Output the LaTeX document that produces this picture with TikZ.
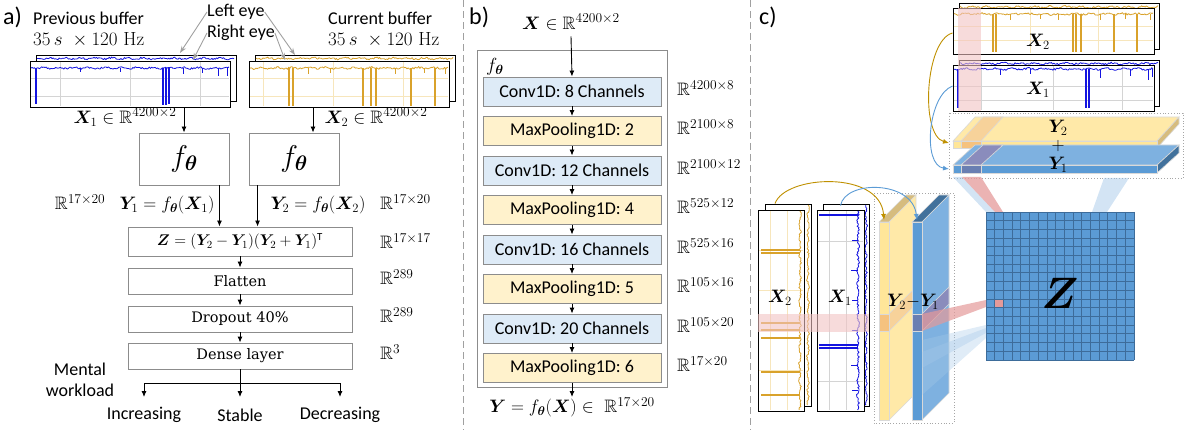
\RequirePackage{fix-cm}
\documentclass[tikz,border=0pt]{standalone}
\usepackage{amsmath,amssymb,bm}
\usepackage{fontspec}
\setsansfont{Carlito}
\newfontfamily\serifbox{DejaVu Serif}
\usetikzlibrary{arrows.meta}
\definecolor{gridgray}{HTML}{D4D4D4}
\definecolor{sigblue}{HTML}{1414E0}
\definecolor{siggold}{HTML}{D9A22B}
\definecolor{gridgold}{HTML}{F7E6BC}
\definecolor{boxgray}{HTML}{8C8C8C}
\definecolor{convfill}{HTML}{DEEBF7}
\definecolor{poolfill}{HTML}{FFF2CC}
\definecolor{ylw}{HTML}{FFE699}
\definecolor{ylwtop}{HTML}{FFE9A8}
\definecolor{ylwdark}{HTML}{D6BC7E}
\definecolor{blu}{HTML}{5B9BD5}
\definecolor{blutop}{HTML}{7EB1E0}
\definecolor{bludark}{HTML}{41719C}
\definecolor{pinkc}{HTML}{E49A9A}
\definecolor{pinkband}{HTML}{F2C4C4}
\definecolor{orng}{HTML}{F5C27E}
\definecolor{orngl}{HTML}{F7D29A}
\definecolor{purp}{HTML}{6A7FB2}
\definecolor{purpl}{HTML}{8A8CBC}
\definecolor{arrgold}{HTML}{BF9000}
\definecolor{arrblue}{HTML}{5B9BD5}
\definecolor{zline}{HTML}{3D6C9A}
\definecolor{sepgray}{HTML}{A0A0A0}
\definecolor{edgec}{HTML}{D9D9D9}
\newcommand\Rx[1]{\mathbb{R}^{\mbox{\fontsize{13.5}{14}\selectfont #1}}}
\newcommand\htrace[5]{%
  \pgfmathsetseed{#5}%
  \draw[#4, line width=0.8pt, line join=round] plot[domain=0:#2, samples=170] ({#1+\x},{#3+0.6*sin(\x*23)+0.9*rand});}
\newcommand\vtrace[5]{%
  \pgfmathsetseed{#5}%
  \draw[#4, line width=0.8pt, line join=round] plot[domain=0:#2, samples=170] ({#3+0.6*sin(\x*23)+0.9*rand},{#1+\x});}
\tikzset{
  txt/.style={font=\fontsize{18}{20}\selectfont, inner sep=0pt},
  stxt/.style={font=\sffamily\fontsize{18}{20}\selectfont, inner sep=0pt},
  abox/.style={draw=boxgray, line width=0.9pt, fill=white, inner sep=0pt, font=\serifbox\fontsize{14.5}{17}\selectfont},
  sbox/.style={draw=black, line width=0.9pt, fill=white, inner sep=0pt},
  conv/.style={draw=boxgray, line width=0.9pt, fill=convfill, minimum width=178pt, minimum height=29pt, font=\sffamily\fontsize{18}{20}\selectfont, inner sep=0pt},
  pool/.style={conv, fill=poolfill},
  arr/.style={-{Latex[length=6pt,width=5pt]}, line width=0.9pt},
  garr/.style={-{Stealth[length=7pt,width=5pt]}, line width=0.9pt, draw=sepgray},
  carr/.style={-{Latex[length=6pt,width=5pt]}, line width=0.9pt},
  dimlab/.style={font=\fontsize{18}{20}\selectfont, inner sep=0pt, anchor=west},
  slabedge/.style={draw=edgec, line width=0.6pt},
}
\begin{document}
\begin{tikzpicture}[x=1pt,y=-1pt]
\useasboundingbox (0,0) rectangle (1188,430);
% separators
\draw[sepgray, dash pattern=on 7pt off 4pt, line width=0.9pt] (463,0) -- (463,430);
\draw[sepgray, dash pattern=on 7pt off 4pt, line width=0.9pt] (750,0) -- (750,430);

%%%%%%%%%%%% PANEL A
\node[stxt, anchor=west, font=\sffamily\fontsize{24}{26}\selectfont] (la) at (3,17) {a)};
\node[stxt, anchor=west] (prev) at (33,18) {Previous buffer};
\node[txt, anchor=west, font=\fontsize{19}{21}\selectfont] (prevr) at (33,40) {$35\,s\ \times 120\ \mathrm{Hz}$};
\node[stxt, anchor=west] (cur) at (328,18) {Current buffer};
\node[txt, anchor=west, font=\fontsize{19}{21}\selectfont] (curr) at (328,40) {$35\,s\ \times 120\ \mathrm{Hz}$};
\node[stxt, anchor=west] (le) at (207,12) {Left eye};
\node[stxt, anchor=west] (re) at (207,33) {Right eye};

% left signal (blue)
\node[sbox, minimum width=200pt, minimum height=46pt] (sA2) at (136,78) {};
\htrace{37}{197}{58.5}{sigblue}{11}
\node[sbox, minimum width=200pt, minimum height=46pt] (sA) at (130,84) {};
\foreach \gx in {60,130,200} \draw[gridgray, line width=0.7pt] (\gx,62) -- (\gx,106);
\foreach \gy in {78,96} \draw[gridgray, line width=0.7pt] (31,\gy) -- (229,\gy);
\htrace{31}{198}{68}{sigblue}{5}
\foreach \s/\d in {36/104, 163/105, 166/105, 169/104} \draw[sigblue, line width=1.1pt] (\s,68) -- (\s,\d);
\foreach \s/\d in {183/74, 202/73, 218/76, 227/76, 80/72, 120/72} \draw[sigblue, line width=0.9pt] (\s,68) -- (\s,\d);

% right signal (gold)
\node[sbox, minimum width=200pt, minimum height=46pt] (sB2) at (355,78) {};
\htrace{256}{197}{58.5}{siggold}{13}
\node[sbox, minimum width=200pt, minimum height=46pt] (sB) at (349,84) {};
\foreach \gx in {263,333,403} \draw[gridgold, line width=0.7pt] (\gx,62) -- (\gx,106);
\foreach \gy in {78,96} \draw[gridgold, line width=0.7pt] (250,\gy) -- (448,\gy);
\htrace{250}{198}{68}{siggold}{7}
\foreach \s in {289,293,363,371,376,411,435} \draw[siggold, line width=1.1pt] (\s,68) -- (\s,106);
\foreach \s/\d in {308/74, 330/73, 395/74, 424/73, 445/74} \draw[siggold, line width=0.9pt] (\s,68) -- (\s,\d);

\draw[garr] (le.west) -- (180,53);
\draw[garr] (re.west) -- (193,60);
\draw[garr] (le.east) -- (295,55);
\draw[garr] (re.east) -- (285,60);

\node[txt] (x1l) at (125,117) {$\bm{X}_1 \in \Rx{4200$\times$2}$};
\node[txt] (x2l) at (376,117) {$\bm{X}_2 \in \Rx{4200$\times$2}$};

\node[abox, minimum width=90pt, minimum height=52pt, font=\fontsize{30}{30}\selectfont] (fA) at (184,159) {$f_{\bm\theta}$};
\node[abox, minimum width=90pt, minimum height=52pt, font=\fontsize{30}{30}\selectfont] (fB) at (294,159) {$f_{\bm\theta}$};
\draw[arr] (sA.south -| fA.north) -- (fA.north);
\draw[arr] ([xshift=19pt]sB.south -| fB.north) -- ([xshift=19pt]fB.north);

\node[abox, minimum width=224pt, minimum height=29pt, font=\fontsize{15.5}{17}\selectfont] (zb) at (240,241.5) {$\bm{Z}=(\bm{Y}_2-\bm{Y}_1)(\bm{Y}_2+\bm{Y}_1)^{\mathsf{T}}$};
\draw[arr] ([xshift=-10pt]fA.south east) -- ([xshift=-10pt]fA.south east |- zb.north);
\draw[arr] ([xshift=9pt]fB.south west) -- ([xshift=9pt]fB.south west |- zb.north);

\node[txt] (r1) at (80,202) {$\Rx{17$\times$20}$};
\node[txt] (y1l) at (167,205) {$\bm{Y}_1=f_{\bm\theta}(\bm{X}_1)$};
\node[txt] (y2l) at (318,205) {$\bm{Y}_2=f_{\bm\theta}(\bm{X}_2)$};
\node[dimlab] (r2) at (380,202) {$\Rx{17$\times$20}$};
\node[dimlab] (r3) at (380,241) {$\Rx{17$\times$17}$};

\node[abox, minimum width=224pt, minimum height=26pt] (fl) at (240,281) {Flatten};
\node[abox, minimum width=224pt, minimum height=26pt] (dr) at (240,319) {Dropout 40\%};
\node[abox, minimum width=224pt, minimum height=26pt] (de) at (240,356) {Dense layer};
\draw[arr] (zb.south) -- (fl.north);
\draw[arr] (fl.south) -- (dr.north);
\draw[arr] (dr.south) -- (de.north);
\node[dimlab] (r4) at (380,277) {$\Rx{289}$};
\node[dimlab] (r5) at (380,315) {$\Rx{289}$};
\node[dimlab] (r6) at (380,352) {$\Rx{3}$};

\coordinate (fan) at (240,383);
\coordinate (fanL) at (144,383);
\coordinate (fanR) at (340,383);
\draw[line width=0.9pt] (de.south) -- (fan);
\draw[line width=0.9pt] (fanL) -- (fanR);
\draw[arr] (fanL) -- ++(0,14);
\draw[arr] (fan) -- ++(0,14);
\draw[arr] (fanR) -- ++(0,14);
\node[stxt] (inc) at (144,415) {Increasing};
\node[stxt] (sta) at (240,415) {Stable};
\node[stxt] (dec) at (340,415) {Decreasing};
\node[stxt, align=center, font=\sffamily\fontsize{18}{21}\selectfont] (mw) at (80,380) {Mental\\workload};

%%%%%%%%%%%% PANEL B
\node[stxt, anchor=west, font=\sffamily\fontsize{24}{26}\selectfont] (lb) at (469,17) {b)};
\node[txt] (xin) at (571,22) {$\bm{X} \in \Rx{4200$\times$2}$};
\node[draw=boxgray, line width=0.9pt, minimum width=190pt, minimum height=337pt, inner sep=0pt] (outer) at (572,218.5) {};
\node[txt, anchor=west, font=\fontsize{19}{20}\selectfont] (fth) at (486,67) {$f_{\bm\theta}$};
\node[conv] (b1) at (572,91.5) {Conv1D: 8 Channels};
\node[pool] (b2) at (572,131) {MaxPooling1D: 2};
\node[conv] (b3) at (572,170.5) {Conv1D: 12 Channels};
\node[pool] (b4) at (572,210) {MaxPooling1D: 4};
\node[conv] (b5) at (572,249.5) {Conv1D: 16 Channels};
\node[pool] (b6) at (572,289) {MaxPooling1D: 5};
\node[conv] (b7) at (572,328.5) {Conv1D: 20 Channels};
\node[pool] (b8) at (572,368) {MaxPooling1D: 6};
\draw[arr] (xin.south) ++(0,6) -- (b1.north);
\foreach \a/\b in {b1/b2,b2/b3,b3/b4,b4/b5,b5/b6,b6/b7,b7/b8} \draw[arr] (\a.south) -- (\b.north);
\node[txt] (yout) at (572,407) {$\bm{Y}=f_{\bm\theta}(\bm{X}) \in\ \Rx{17$\times$20}$};
\draw[arr] (b8.south) -- (572,397);
\node[dimlab] (d1) at (677,88) {$\Rx{4200$\times$8}$};
\node[dimlab] (d2) at (677,127) {$\Rx{2100$\times$8}$};
\node[dimlab] (d3) at (677,167) {$\Rx{2100$\times$12}$};
\node[dimlab] (d4) at (677,206) {$\Rx{525$\times$12}$};
\node[dimlab] (d5) at (677,246) {$\Rx{525$\times$16}$};
\node[dimlab] (d6) at (677,285) {$\Rx{105$\times$16}$};
\node[dimlab] (d7) at (677,325) {$\Rx{105$\times$20}$};
\node[dimlab] (d8) at (677,364) {$\Rx{17$\times$20}$};

%%%%%%%%%%%% PANEL C
\node[stxt, anchor=west, font=\sffamily\fontsize{24}{26}\selectfont] (lc) at (759,17) {c)};

% top X2 (gold)
\node[sbox, minimum width=200pt, minimum height=46pt] (tX2b) at (1059,26) {};
\htrace{960}{198}{7}{siggold}{21}
\node[sbox, minimum width=201pt, minimum height=46pt] (tX2) at (1053.5,31) {};
\foreach \gx in {1030,1098} \draw[gridgold, line width=0.7pt] (\gx,9) -- (\gx,53);
\foreach \gy in {26,40} \draw[gridgold, line width=0.7pt] (954,\gy) -- (1153,\gy);
\htrace{954}{199}{14}{siggold}{23}
\foreach \s in {993,996,1073,1076,1081,1114,1137} \draw[siggold, line width=1.1pt] (\s,14) -- (\s,52);
\foreach \s/\d in {1010/20, 1040/19, 1058/20, 1100/20, 1125/19, 1150/20} \draw[siggold, line width=0.9pt] (\s,14) -- (\s,\d);
\node[txt] (tX2l) at (1038,42) {$\bm{X}_2$};

% top X1 (blue)
\node[sbox, minimum width=200pt, minimum height=46pt] (tX1b) at (1059,83) {};
\htrace{960}{198}{63.5}{sigblue}{31}
\node[sbox, minimum width=201pt, minimum height=46pt] (tX1) at (1053.5,88) {};
\foreach \gx in {981,1053,1122} \draw[gridgray, line width=0.7pt] (\gx,66) -- (\gx,110);
\foreach \gy in {86,100} \draw[gridgray, line width=0.7pt] (954,\gy) -- (1153,\gy);
\htrace{954}{199}{69}{sigblue}{37}
\foreach \s in {958,1086,1089} \draw[sigblue, line width=1.1pt] (\s,69) -- (\s,108);
\foreach \s/\d in {1000/75, 1030/74, 1100/78, 1130/76, 1148/80, 1152/77} \draw[sigblue, line width=0.9pt] (\s,69) -- (\s,\d);
\node[txt] (tX1l) at (1038,90) {$\bm{X}_1$};

% pink band top
\fill[pinkband, opacity=0.6] (958,8) rectangle (981,111);

% dotted box top
\draw[gray!70, dotted, line width=0.8pt] (949,113) rectangle (1183,178);

% Y2 horizontal slab
\filldraw[fill=ylwtop, slabedge] (953,141) -- (975,117) -- (1179,117) -- (1157,141) -- cycle;
\filldraw[fill=ylwdark, slabedge] (1157,141) -- (1179,117) -- (1179,124) -- (1157,148) -- cycle;
\filldraw[fill=ylw, slabedge] (953,141) rectangle (1157,148);
\filldraw[fill=orngl, slabedge] (961,141) -- (983,117) -- (1003,117) -- (981,141) -- cycle;
\filldraw[fill=orng, slabedge] (961,141) rectangle (981,148);
% Y1 horizontal slab
\filldraw[fill=blutop, slabedge] (953,165) -- (975,145) -- (1179,145) -- (1157,165) -- cycle;
\filldraw[fill=bludark, slabedge] (1157,165) -- (1179,145) -- (1179,153) -- (1157,173) -- cycle;
\filldraw[fill=blu, slabedge] (953,165) rectangle (1157,173);
\filldraw[fill=purpl, slabedge] (961,165) -- (983,145) -- (1003,145) -- (981,165) -- cycle;
\filldraw[fill=purp, slabedge] (961,165) rectangle (981,173);
\node[txt] (y2t) at (1058,128) {$\bm{Y}_2$};
\node[txt] (plus) at (1058,146) {$+$};
\node[txt] (y1t) at (1058,165) {$\bm{Y}_1$};

% curved arrows top
\draw[carr, draw=arrgold] (tX2.west) ++(0,2) .. controls (925,40) and (920,135) .. (949,143);
\draw[carr, draw=arrblue] (tX1.west) ++(0,-2) .. controls (928,95) and (922,165) .. (949,169);

% lower X2 (gold, vertical)
\node[sbox, minimum width=46pt, minimum height=202pt] (vX2b) at (788,305) {};
\vtrace{205}{200}{808}{siggold}{41}
\node[sbox, minimum width=46pt, minimum height=201pt] (vX2) at (781,310.5) {};
\foreach \gx in {770,787} \draw[gridgold, line width=0.7pt] (\gx,211) -- (\gx,410);
\foreach \gy in {250,290,330,370} \draw[gridgold, line width=0.7pt] (759,\gy) -- (803,\gy);
\vtrace{211}{199}{800}{siggold}{43}
\foreach \s in {250,253,323,330,338,372,395} \draw[siggold, line width=1.1pt] (800,\s) -- (761,\s);
\node[txt] (vX2l) at (780,298) {$\bm{X}_2$};

% lower X1 (blue, vertical)
\node[sbox, minimum width=46pt, minimum height=202pt] (vX1b) at (846,305) {};
\vtrace{205}{200}{866}{sigblue}{47}
\node[sbox, minimum width=47pt, minimum height=201pt] (vX1) at (840.5,310.5) {};
\foreach \gx in {829,846} \draw[gridgray, line width=0.7pt] (\gx,211) -- (\gx,410);
\foreach \gy in {241,381} \draw[gridgray, line width=0.7pt] (818,\gy) -- (863,\gy);
\vtrace{211}{199}{858}{sigblue}{53}
\foreach \s in {215,345,348} \draw[sigblue, line width=1.1pt] (858,\s) -- (819,\s);
\foreach \s/\d in {240/852,270/851,300/852,330/852,365/851,390/852} \draw[sigblue, line width=0.9pt] (858,\s) -- (\d,\s);
\node[txt] (vX1l) at (840,298) {$\bm{X}_1$};

% pink band lower
\fill[pinkband, opacity=0.6] (758,314) rectangle (869,332);

% dotted box lower
\draw[gray!70, dotted, line width=0.8pt] (874,193) rectangle (954,423);

% vertical Y2 slab
\filldraw[fill=ylwdark, slabedge] (879,222) -- (906,195) -- (916,195) -- (889,222) -- cycle;
\filldraw[fill=ylwtop, slabedge] (889,222) -- (916,195) -- (916,393) -- (889,420) -- cycle;
\filldraw[fill=ylw, slabedge] (879,222) rectangle (889,420);
\filldraw[fill=orngl, slabedge] (889,314) -- (916,287) -- (916,304) -- (889,331) -- cycle;
\filldraw[fill=orng, slabedge] (879,314) rectangle (889,331);
% vertical Y1 slab
\filldraw[fill=bludark, slabedge] (912,222) -- (939,195) -- (949,195) -- (922,222) -- cycle;
\filldraw[fill=blutop, slabedge] (922,222) -- (949,195) -- (949,393) -- (922,420) -- cycle;
\filldraw[fill=blu, slabedge] (912,222) rectangle (922,420);
\filldraw[fill=purpl, slabedge] (922,314) -- (949,287) -- (949,304) -- (922,331) -- cycle;
\filldraw[fill=purp, slabedge] (912,314) rectangle (922,331);

% curved arrows lower
\draw[carr, draw=arrgold] (vX2b.north -| vX2.north) ++(-6,0) .. controls (785,175) and (880,170) .. (884,220);
\draw[carr, draw=arrblue] (vX1b.north -| vX1.north) ++(0,2) .. controls (845,180) and (912,180) .. (917,220);

% Z grid
\fill[blu] (986,212) rectangle (1134,360);
\fill[pinkc] (994.7,298.9) rectangle (1003.4,307.6);
\foreach \i in {0,...,17} {
  \draw[zline, line width=0.9pt] ({986+\i*148/17},212) -- ({986+\i*148/17},360);
  \draw[zline, line width=0.9pt] (986,{212+\i*148/17}) -- (1134,{212+\i*148/17});
}
\node[inner sep=0pt, font=\fontsize{44}{44}\selectfont] (zt) at (1060,293) {$\bm{Z}$};

% beams
\fill[blu!60, opacity=0.45] (953,177) -- (962,177) -- (995,212) -- (986,212) -- cycle;
\fill[pinkc, opacity=0.75] (962,177) -- (981,177) -- (1003,212) -- (995,212) -- cycle;
\fill[blu!60, opacity=0.45] (1104,178) -- (1129,178) -- (1107,212) -- (1092,212) -- cycle;
\fill[pinkc, opacity=0.7] (922,314) -- (986,300) -- (986,307) -- (922,331) -- cycle;
\fill[blu!55, opacity=0.35] (922,340) -- (986,325) -- (986,333) -- (922,368) -- cycle;
\fill[blu!55, opacity=0.35] (922,352) -- (986,328) -- (986,338) -- (922,395) -- cycle;

\node[txt, font=\fontsize{18}{20}\selectfont] (ydiff) at (913,302) {$\bm{Y}_2{-}\bm{Y}_1$};
\end{tikzpicture}
\end{document}
